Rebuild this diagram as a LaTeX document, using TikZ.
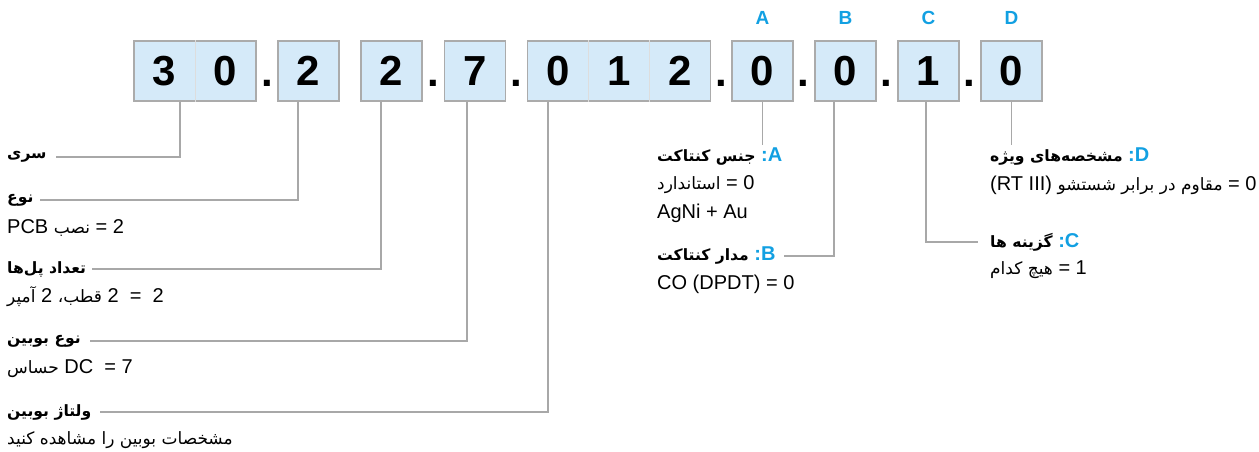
\documentclass[tikz,border=0pt]{standalone}
\usepackage{fontspec}
\setmainfont{Liberation Sans}
\newfontfamily\fa[Script=Arabic,Scale=0.85]{DejaVu Sans}
\newfontfamily\fab[Script=Arabic,Scale=0.78]{DejaVu Sans}
\TeXXeTstate=1
\definecolor{boxfill}{HTML}{D5EAF9}
\definecolor{boxline}{HTML}{ABABAB}
\definecolor{wireline}{HTML}{A8A8A8}
\definecolor{codeblue}{HTML}{12A0E2}
\newcommand{\fatext}[1]{{\fa\beginR #1\endR}}
\newcommand{\fahead}[1]{{\fab\beginR #1\endR}}
\tikzset{
  codebox/.style={draw=boxline, fill=boxfill, line width=1.4pt, minimum height=60pt,
    minimum width=61pt, inner sep=0pt, font=\fontsize{42}{42}\selectfont\bfseries},
  sep/.style={font=\fontsize{42}{42}\selectfont\bfseries, inner sep=0pt, anchor=base},
  letter/.style={font=\fontsize{19}{19}\selectfont\bfseries, text=codeblue, inner sep=0pt},
  heading/.style={font=\fontsize{20}{24}\selectfont\bfseries, inner xsep=0pt, inner ysep=3pt, anchor=west},
  body/.style={font=\fontsize{20}{24}\selectfont, inner sep=0pt, anchor=west},
  wire/.style={draw=wireline, line width=1.2pt},
  divider/.style={draw=boxline!40, line width=0.6pt},
}
\begin{document}
\begin{tikzpicture}[x=1pt, y=-1pt]
  \useasboundingbox (0,0) rectangle (1259,452);
  \node[codebox, minimum width=122pt] (b30) at (195,71) {\makebox[61pt]{3}\makebox[61pt]{0}};
  \node[codebox] (b2a) at (308.5,71) {2};
  \node[codebox] (b2b) at (391.5,71) {2};
  \node[codebox] (b7) at (475,71) {7};
  \node[codebox, minimum width=183pt] (b012) at (619,71) {\makebox[61pt]{0}\makebox[61pt]{1}\makebox[61pt]{2}};
  \node[codebox] (bA) at (762.5,71) {0};
  \node[codebox] (bB) at (845.5,71) {0};
  \node[codebox] (bC) at (928.5,71) {1};
  \node[codebox] (bD) at (1011.5,71) {0};
  \draw[divider] (b30.north) -- (b30.south);
  \draw[divider] ([xshift=-30.5pt]b012.north) -- ([xshift=-30.5pt]b012.south);
  \draw[divider] ([xshift=30.5pt]b012.north) -- ([xshift=30.5pt]b012.south);
  \node[sep] (s1) at (267,86) {.};
  \node[sep] (s2) at (433,86) {.};
  \node[sep] (s3) at (516,86) {.};
  \node[sep] (s4) at (721,86) {.};
  \node[sep] (s5) at (803,86) {.};
  \node[sep] (s6) at (886,86) {.};
  \node[sep] (s7) at (969,86) {.};
  \node[letter] (lA) at (762.5,18) {A};
  \node[letter] (lB) at (845.5,18) {B};
  \node[letter] (lC) at (928.5,18) {C};
  \node[letter] (lD) at (1011.5,18) {D};
  \coordinate (t30) at ([xshift=-15pt]b30.south);
  \coordinate (t2a) at ([xshift=-10.5pt]b2a.south);
  \coordinate (t2b) at ([xshift=-10.5pt]b2b.south);
  \coordinate (t7) at ([xshift=-8pt]b7.south);
  \coordinate (t012) at ([xshift=-71pt]b012.south);
  \coordinate (tA) at (bA.south);
  \coordinate (tB) at ([xshift=-11.5pt]bB.south);
  \coordinate (tC) at ([xshift=-2.5pt]bC.south);
  \coordinate (tD) at (bD.south);
  \node[heading] (hSeri) at (7,157) {\fahead{سری}};
  \node[heading] (hType) at (7,200) {\fahead{نوع}};
  \node[body] (vType) at (7,228) {PCB \fatext{نصب} = 2};
  \node[heading] (hPoles) at (7,269) {\fahead{تعداد پل‌ها}};
  \node[body] (vPoles) at (7,297) {\fatext{آمپر} 2 \fatext{قطب،} 2 \ = \ 2};
  \node[heading] (hCoilType) at (7,341) {\fahead{نوع بوبین}};
  \node[body] (vCoilType) at (7,369) {\fatext{حساس} DC \ = 7};
  \node[heading] (hCoilVolt) at (7,412) {\fahead{ولتاژ بوبین}};
  \node[body] (vCoilVolt) at (7,440) {\fatext{مشخصات بوبین را مشاهده کنید}};
  \node[heading] (hA) at (657,157) {\fahead{جنس کنتاکت} \textcolor{codeblue}{:A}};
  \node[body] (vA1) at (657,185) {\fatext{استاندارد} = 0};
  \node[body] (vA2) at (657,213) {AgNi + Au};
  \node[heading] (hB) at (657,256) {\fahead{مدار کنتاکت} \textcolor{codeblue}{:B}};
  \node[body] (vB) at (657,284) {CO (DPDT) = 0};
  \node[heading] (hD) at (990,157) {\fahead{مشخصه‌های ویژه} \textcolor{codeblue}{:D}};
  \node[body] (vD) at (990,185) {(RT III) \fatext{مقاوم در برابر شستشو} = 0};
  \node[heading] (hC) at (990,242) {\fahead{گزینه ها} \textcolor{codeblue}{:C}};
  \node[body] (vC) at (990,270) {\fatext{هیچ کدام} = 1};
  \begin{scope}[wire]
    \draw (t30) |- ([xshift=9pt]hSeri.east);
    \draw (t2a) |- ([xshift=6pt]hType.east);
    \draw (t2b) |- ([xshift=6pt]hPoles.east);
    \draw (t7) |- ([xshift=9pt]hCoilType.east);
    \draw (t012) |- ([xshift=9pt]hCoilVolt.east);
    \draw (tA) -- (tA |- hA.north);
    \draw (tB) |- ([xshift=8pt]hB.east);
    \draw (tC) |- ([xshift=-12pt]hC.west);
    \draw (tD) -- (tD |- hD.north);
  \end{scope}
\end{tikzpicture}
\end{document}
